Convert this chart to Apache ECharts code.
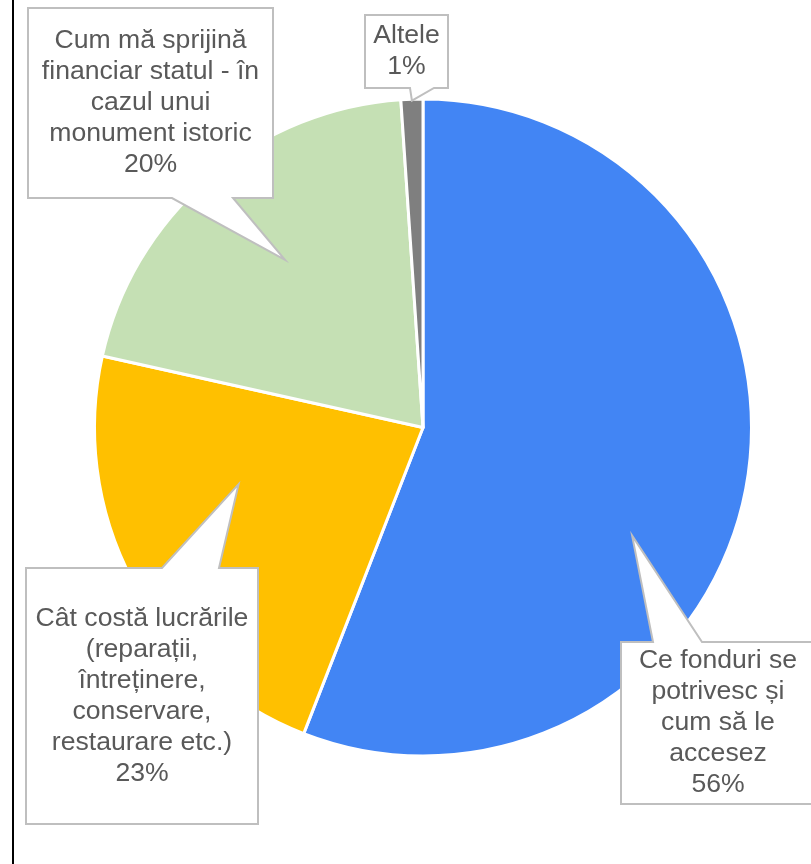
<!DOCTYPE html>
<html>
<head>
<meta charset="utf-8">
<script src="https://cdn.jsdelivr.net/npm/echarts@6/dist/echarts.min.js"></script>
<style>
html,body{margin:0;padding:0;background:#fff;}
#chart{width:811px;height:864px;}
</style>
</head>
<body>
<div id="chart"></div>
<script>
// ---- data ----
const categories = [
  "Ce fonduri se\npotrivesc și\ncum să le\naccesez",
  "Cât costă lucrările\n(reparații,\nîntreținere,\nconservare,\nrestaurare etc.)",
  "Cum mă sprijină\nfinanciar statul - în\ncazul unui\nmonument istoric",
  "Altele"
];
const values = [52, 21, 19, 1];
const colors = ["#4285F4", "#FFC000", "#C5E0B4", "#7F7F7F"];

// ---- layout (pixels) ----
const center = [423, 427.5];
const radius = 328.5;
// callout boxes: [x, y, w, h], side of the pointer, pointer base x-range,
// t = position inside the slice's angle span, rf = fraction of radius for tip
const callouts = [
  { box: [621, 642, 194, 162], side: "top",    base: [653, 702], t: 0.583, rf: 0.72 },
  { box: [26, 568, 232, 256],  side: "top",    base: [162, 219], t: 0.635, rf: 0.59 },
  { box: [28, 8, 245, 190],    side: "bottom", base: [172, 233], t: 0.516, rf: 0.664 },
  { box: [365, 15, 83, 73],    side: "bottom", base: [410, 434], t: 0.5,   rf: 1.0 }
];

const total = values.reduce((a, b) => a + b, 0);
const visR = radius - 1.5;
let cum = 0;
const shapes = [];
values.forEach((v, i) => {
  const a0 = cum / total * Math.PI * 2;
  cum += v;
  const a1 = cum / total * Math.PI * 2;
  const c = callouts[i];
  const th = a0 + c.t * (a1 - a0);
  const tip = [center[0] + c.rf * visR * Math.sin(th), center[1] - c.rf * visR * Math.cos(th)];
  const [x, y, w, h] = c.box;
  let pts;
  if (c.side === "top") {
    pts = [[x, y], [c.base[0], y], tip, [c.base[1], y], [x + w, y], [x + w, y + h], [x, y + h]];
  } else {
    pts = [[x, y], [x + w, y], [x + w, y + h], [c.base[1], y + h], tip, [c.base[0], y + h], [x, y + h]];
  }
  shapes.push({
    type: "polygon",
    z: 5,
    silent: true,
    shape: { points: pts },
    style: { fill: "#fff", stroke: "#BFBFBF", lineWidth: 2, lineJoin: "miter" }
  });
});

const data = categories.map((n, i) => ({ name: n, value: values[i], itemStyle: { color: colors[i] } }));

const chart = echarts.init(document.getElementById("chart"), null, { renderer: "canvas" });
chart.setOption({
  backgroundColor: "#fff",
  animation: false,
  graphic: [
    {
      type: "line", z: 1, silent: true,
      shape: { x1: 13, y1: 0, x2: 13, y2: 864 },
      style: { stroke: "#000", lineWidth: 2 }
    }
  ].concat(shapes),
  series: [
    {
      type: "pie",
      z: 2,
      center: center,
      radius: radius,
      startAngle: 90,
      clockwise: true,
      silent: true,
      label: { show: false },
      labelLine: { show: false },
      itemStyle: { borderColor: "#fff", borderWidth: 3 },
      data: data
    },
    {
      type: "pie",
      z: 10,
      center: center,
      radius: radius,
      startAngle: 90,
      clockwise: true,
      silent: true,
      percentPrecision: 0,
      avoidLabelOverlap: false,
      itemStyle: { color: "rgba(0,0,0,0)", borderWidth: 0 },
      labelLine: { show: false },
      label: {
        show: true,
        position: "outside",
        formatter: "{b}\n{d}%",
        fontFamily: "Liberation Sans, Arial, sans-serif",
        fontSize: 26.6,
        lineHeight: 31,
        color: "#595959",
        align: "center"
      },
      labelLayout: function (p) {
        const c = callouts[p.dataIndex];
        const [x, y, w, h] = c.box;
        return { x: x + w / 2, y: y + h / 2, align: "center", verticalAlign: "middle" };
      },
      data: categories.map((n, i) => ({ name: n, value: values[i], itemStyle: { color: "rgba(0,0,0,0)" } }))
    }
  ]
});
</script>
</body>
</html>
